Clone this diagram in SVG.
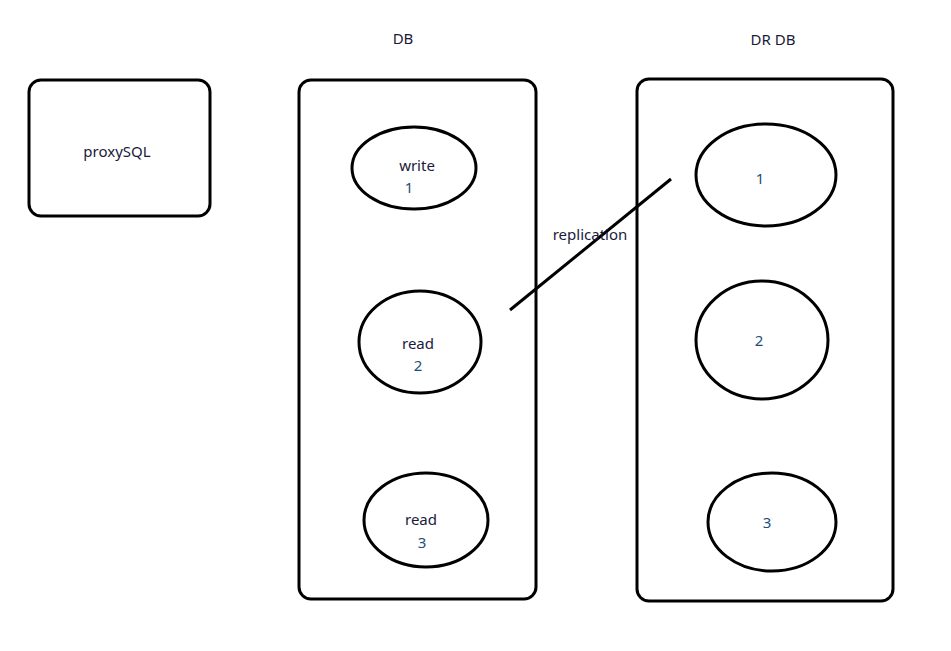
<svg xmlns="http://www.w3.org/2000/svg" width="951" height="651" viewBox="0 0 951 651">
<style>
.box{fill:#fff;stroke:#000;stroke-width:3}
.el{fill:#fff;stroke:#000;stroke-width:3}
text{font-family:"Noto Sans","Open Sans","DejaVu Sans",sans-serif;font-size:15px;text-anchor:middle;fill:#1a1a3a}
.n{fill:#1f4e79}
</style>
<rect width="951" height="651" fill="#fff"/>
<g id="proxysql"><rect class="box" x="29" y="80" width="181" height="136" rx="12"/><text x="117" y="157">proxySQL</text></g>
<g id="db"><rect class="box" x="299" y="80" width="237" height="519" rx="12"/><text x="403" y="44">DB</text></g>
<g id="drdb"><rect class="box" x="637" y="79" width="256" height="522" rx="12"/><text x="773" y="45">DR DB</text></g>
<g id="db-write1"><ellipse class="el" cx="414" cy="168" rx="62" ry="41"/><text x="417" y="171">write</text><text class="n" x="409" y="193">1</text></g>
<g id="db-read2"><ellipse class="el" cx="420" cy="342" rx="61" ry="51"/><text x="418" y="349">read</text><text class="n" x="418" y="371">2</text></g>
<g id="db-read3"><ellipse class="el" cx="426" cy="520" rx="62" ry="47"/><text x="421" y="525">read</text><text class="n" x="422" y="548">3</text></g>
<g id="dr1"><ellipse class="el" cx="766" cy="175" rx="70" ry="51"/><text class="n" x="760" y="184">1</text></g>
<g id="dr2"><ellipse class="el" cx="762" cy="340" rx="66" ry="59"/><text class="n" x="759" y="346">2</text></g>
<g id="dr3"><ellipse class="el" cx="772" cy="522" rx="64" ry="49"/><text class="n" x="767" y="528">3</text></g>
<g id="connectors"><line x1="510" y1="310" x2="671" y2="179" stroke="#000" stroke-width="3"/><text x="590" y="240">replication</text></g>
</svg>
